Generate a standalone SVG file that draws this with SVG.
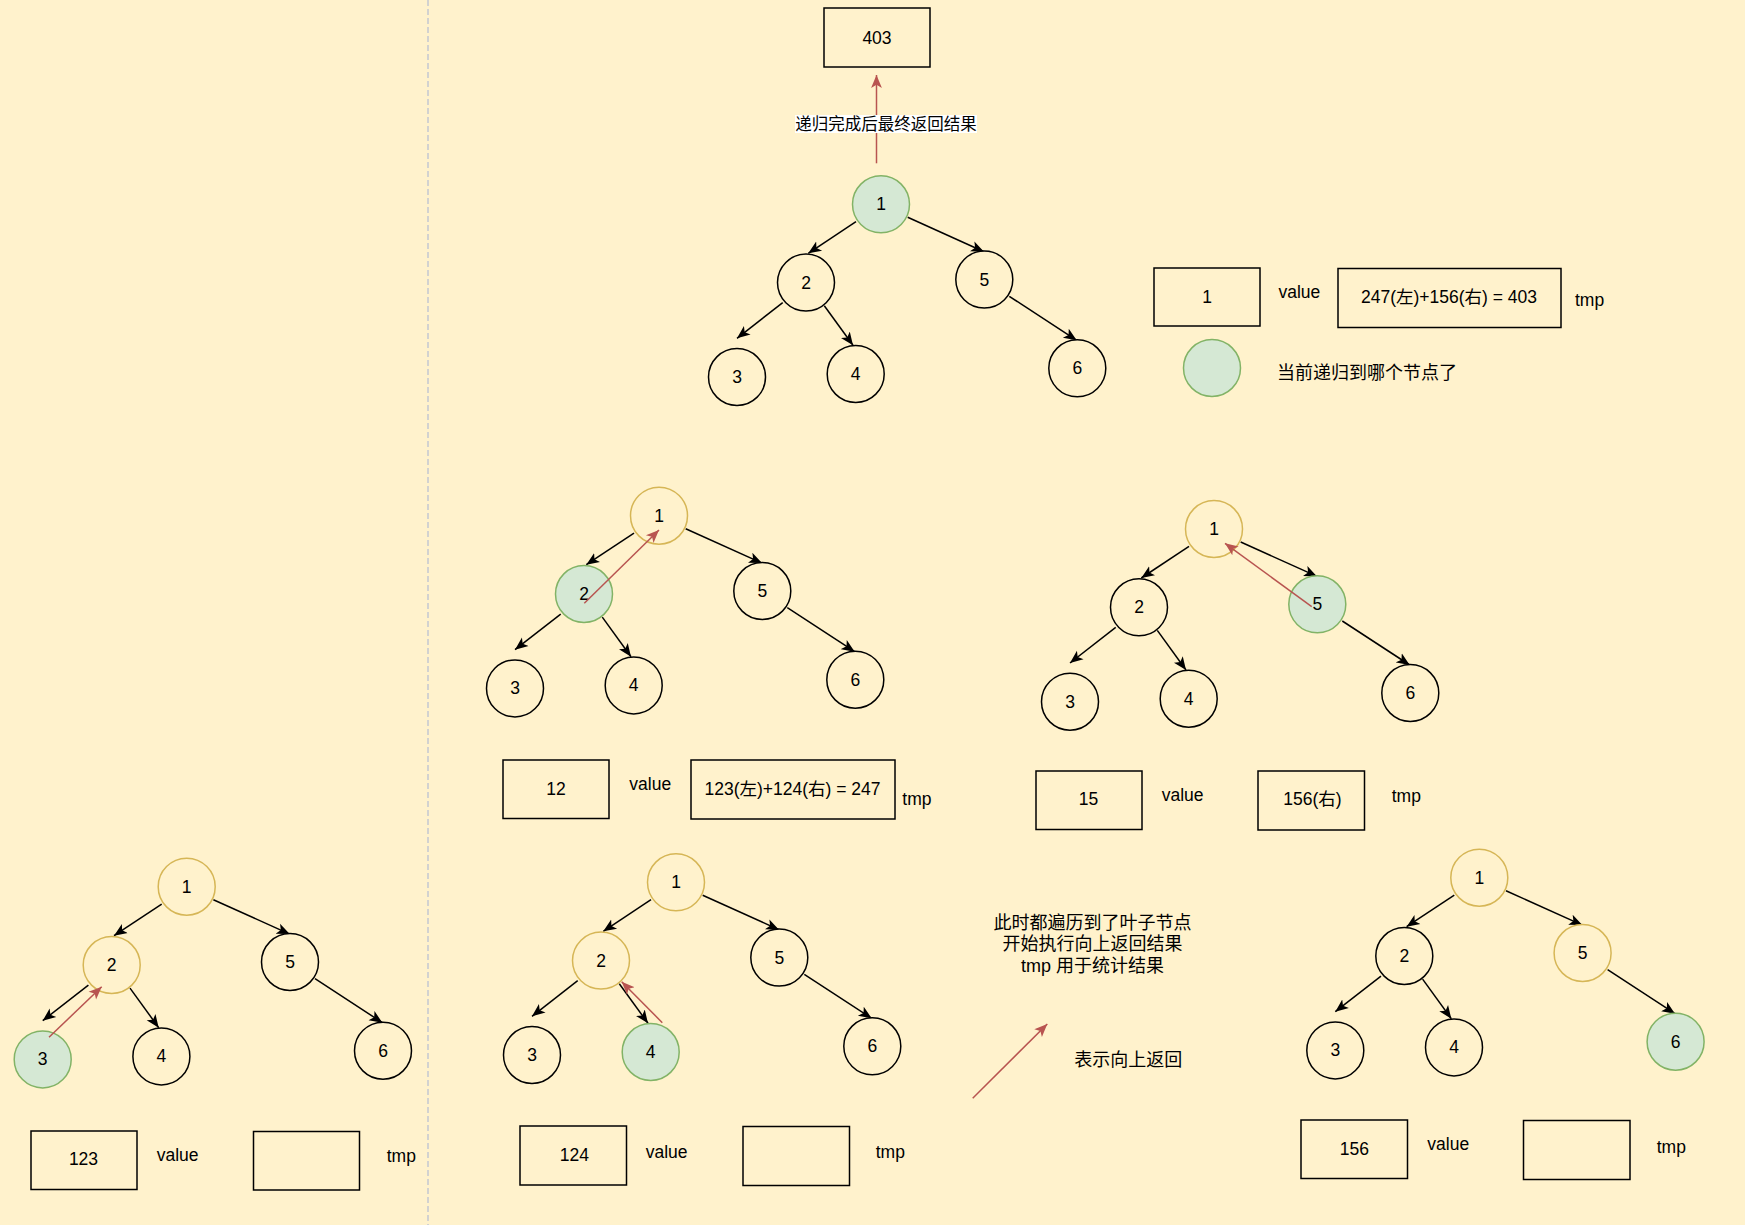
<svg xmlns="http://www.w3.org/2000/svg" width="1745" height="1225" viewBox="0 0 1745 1225">
<style>
.n{fill:#fff2cc;stroke:#000;stroke-width:1.5}
.y{fill:#fff2cc;stroke:#d6b656;stroke-width:1.5}
.g{fill:#d5e8d4;stroke:#82b366;stroke-width:1.5}
.box{fill:none;stroke:#000;stroke-width:1.5}
text{font-family:"Liberation Sans","Noto Sans CJK SC",sans-serif;font-size:17.5px;fill:#000}
.c{text-anchor:middle;dominant-baseline:central}
.l{dominant-baseline:central}
.cjk{font-size:18px}
.el{font-size:16.5px}
.e{stroke:#000;stroke-width:1.5;fill:none;marker-end:url(#ab)}
.r{stroke:#b85450;stroke-width:1.5;fill:none;marker-end:url(#ar)}
</style>
<defs>
<marker id="ab" viewBox="0 0 12 12" markerWidth="13" markerHeight="13" refX="12" refY="6" orient="auto" markerUnits="userSpaceOnUse"><path d="M0,1 L12,6 L0,11 L3,6 z" fill="#000"/></marker>
<marker id="ar" viewBox="0 0 12 12" markerWidth="13" markerHeight="13" refX="12" refY="6" orient="auto" markerUnits="userSpaceOnUse"><path d="M0,1 L12,6 L0,11 L3,6 z" fill="#b85450"/></marker>
</defs>
<rect x="0" y="0" width="1745" height="1225" fill="#fff2cc"/>
<line x1="428" y1="0" x2="428" y2="1225" stroke="#c3c7d1" stroke-width="1.5" stroke-dasharray="6 3"/>

<g id="connectors">
<!-- top tree -->
<line class="e" x1="856" y1="221.7" x2="808.3" y2="253.3"/>
<line class="e" x1="907.7" y1="217.3" x2="984" y2="251.7"/>
<line class="e" x1="782.7" y1="302.7" x2="737" y2="338.3"/>
<line class="e" x1="824.3" y1="305.7" x2="853" y2="345.3"/>
<line class="e" x1="1009.3" y1="296.3" x2="1076.7" y2="340.3"/>
<!-- mid-left tree -->
<line class="e" x1="634" y1="533.1" x2="586.3" y2="564.7"/>
<line class="e" x1="685.7" y1="528.7" x2="762" y2="563.1"/>
<line class="e" x1="560.7" y1="614.1" x2="515" y2="649.7"/>
<line class="e" x1="602.3" y1="617.1" x2="631" y2="656.7"/>
<line class="e" x1="787.3" y1="607.7" x2="854.7" y2="651.7"/>
<!-- mid-right tree -->
<line class="e" x1="1189" y1="546.4" x2="1141.3" y2="578"/>
<line class="e" x1="1240.7" y1="542" x2="1317" y2="576.4"/>
<line class="e" x1="1115.7" y1="627.4" x2="1070" y2="663"/>
<line class="e" x1="1157.3" y1="630.4" x2="1186" y2="670"/>
<line class="e" x1="1342.3" y1="621" x2="1409.7" y2="665"/>
<!-- bottom-left tree -->
<line class="e" x1="161.7" y1="904.1" x2="114" y2="935.7"/>
<line class="e" x1="213.4" y1="899.7" x2="289.7" y2="934.1"/>
<line class="e" x1="88.4" y1="985.1" x2="42.7" y2="1020.7"/>
<line class="e" x1="130" y1="988.1" x2="158.7" y2="1027.7"/>
<line class="e" x1="315" y1="978.7" x2="382.4" y2="1022.7"/>
<!-- bottom-middle tree -->
<line class="e" x1="651" y1="899.7" x2="603.3" y2="931.3"/>
<line class="e" x1="702.7" y1="895.3" x2="779" y2="929.7"/>
<line class="e" x1="577.7" y1="980.7" x2="532" y2="1016.3"/>
<line class="e" x1="619.3" y1="983.7" x2="648" y2="1023.3"/>
<line class="e" x1="804.3" y1="974.3" x2="871.7" y2="1018.3"/>
<!-- bottom-right tree -->
<line class="e" x1="1454.3" y1="895.1" x2="1406.6" y2="926.7"/>
<line class="e" x1="1506" y1="890.7" x2="1582.3" y2="925.1"/>
<line class="e" x1="1381" y1="976.1" x2="1335.3" y2="1011.7"/>
<line class="e" x1="1422.6" y1="979.1" x2="1451.3" y2="1018.7"/>
<line class="e" x1="1607.6" y1="969.7" x2="1675" y2="1013.7"/>
</g>

<g id="result-403"><rect class="box" x="824" y="8" width="106" height="59"/><text class="c" x="877" y="37.5">403</text></g>

<!-- top tree -->
<g id="t0-n1"><circle class="g" cx="881" cy="204.3" r="28.5"/><text class="c" x="881" y="204.3">1</text></g>
<g id="t0-n2"><circle class="n" cx="806" cy="282.6" r="28.5"/><text class="c" x="806" y="282.6">2</text></g>
<g id="t0-n5"><circle class="n" cx="984.3" cy="279.6" r="28.5"/><text class="c" x="984.3" y="279.6">5</text></g>
<g id="t0-n3"><circle class="n" cx="737" cy="377" r="28.5"/><text class="c" x="737" y="377">3</text></g>
<g id="t0-n4"><circle class="n" cx="855.7" cy="374" r="28.5"/><text class="c" x="855.7" y="374">4</text></g>
<g id="t0-n6"><circle class="n" cx="1077.3" cy="368.3" r="28.5"/><text class="c" x="1077.3" y="368.3">6</text></g>

<g id="legend-value"><rect class="box" x="1154" y="268" width="106" height="58"/><text class="c" x="1207" y="297">1</text><text class="l" x="1278.5" y="292">value</text></g>
<g id="legend-tmp"><rect class="box" x="1338" y="268.5" width="223" height="59"/><text class="c" x="1449" y="297">247(左)+156(右) = 403</text><text class="l" x="1575" y="300">tmp</text></g>
<g id="legend-current"><circle class="g" cx="1212" cy="368" r="28.5"/><text class="l cjk" x="1277" y="372.5">当前递归到哪个节点了</text></g>

<!-- mid-left tree -->
<g id="t1-n1"><circle class="y" cx="659" cy="515.7" r="28.5"/><text class="c" x="659" y="515.7">1</text></g>
<g id="t1-n2"><circle class="g" cx="584" cy="594" r="28.5"/><text class="c" x="584" y="594">2</text></g>
<g id="t1-n5"><circle class="n" cx="762.3" cy="591" r="28.5"/><text class="c" x="762.3" y="591">5</text></g>
<g id="t1-n3"><circle class="n" cx="515" cy="688.4" r="28.5"/><text class="c" x="515" y="688.4">3</text></g>
<g id="t1-n4"><circle class="n" cx="633.7" cy="685.4" r="28.5"/><text class="c" x="633.7" y="685.4">4</text></g>
<g id="t1-n6"><circle class="n" cx="855.3" cy="679.7" r="28.5"/><text class="c" x="855.3" y="679.7">6</text></g>
<g id="t1-value"><rect class="box" x="503" y="760" width="106" height="58.5"/><text class="c" x="556" y="789">12</text><text class="l" x="629.3" y="784">value</text></g>
<g id="t1-tmp"><rect class="box" x="691" y="760" width="204" height="59"/><text class="c" x="792.5" y="789">123(左)+124(右) = 247</text><text class="l" x="902.3" y="799">tmp</text></g>

<!-- mid-right tree -->
<g id="t2-n1"><circle class="y" cx="1214" cy="529" r="28.5"/><text class="c" x="1214" y="529">1</text></g>
<g id="t2-n2"><circle class="n" cx="1139" cy="607.3" r="28.5"/><text class="c" x="1139" y="607.3">2</text></g>
<g id="t2-n5"><circle class="g" cx="1317.3" cy="604.3" r="28.5"/><text class="c" x="1317.3" y="604.3">5</text></g>
<g id="t2-n3"><circle class="n" cx="1070" cy="701.7" r="28.5"/><text class="c" x="1070" y="701.7">3</text></g>
<g id="t2-n4"><circle class="n" cx="1188.7" cy="698.7" r="28.5"/><text class="c" x="1188.7" y="698.7">4</text></g>
<g id="t2-n6"><circle class="n" cx="1410.3" cy="693" r="28.5"/><text class="c" x="1410.3" y="693">6</text></g>
<g id="t2-value"><rect class="box" x="1036" y="771" width="106" height="58.5"/><text class="c" x="1088.5" y="799">15</text><text class="l" x="1161.7" y="795">value</text></g>
<g id="t2-tmp"><rect class="box" x="1258" y="771" width="106.5" height="59"/><text class="c" x="1312.5" y="799">156(右)</text><text class="l" x="1391.7" y="796">tmp</text></g>

<!-- bottom-left tree -->
<g id="t3-n1"><circle class="y" cx="186.7" cy="886.7" r="28.5"/><text class="c" x="186.7" y="886.7">1</text></g>
<g id="t3-n2"><circle class="y" cx="111.7" cy="965" r="28.5"/><text class="c" x="111.7" y="965">2</text></g>
<g id="t3-n5"><circle class="n" cx="290" cy="962" r="28.5"/><text class="c" x="290" y="962">5</text></g>
<g id="t3-n3"><circle class="g" cx="42.7" cy="1059.4" r="28.5"/><text class="c" x="42.7" y="1059.4">3</text></g>
<g id="t3-n4"><circle class="n" cx="161.4" cy="1056.4" r="28.5"/><text class="c" x="161.4" y="1056.4">4</text></g>
<g id="t3-n6"><circle class="n" cx="383" cy="1050.7" r="28.5"/><text class="c" x="383" y="1050.7">6</text></g>
<g id="t3-value"><rect class="box" x="31" y="1131" width="106" height="58.5"/><text class="c" x="83.5" y="1158.5">123</text><text class="l" x="156.7" y="1155">value</text></g>
<g id="t3-tmp"><rect class="box" x="253.5" y="1131.5" width="106" height="58.5"/><text class="l" x="386.7" y="1156">tmp</text></g>

<!-- bottom-middle tree -->
<g id="t4-n1"><circle class="y" cx="676" cy="882.3" r="28.5"/><text class="c" x="676" y="882.3">1</text></g>
<g id="t4-n2"><circle class="y" cx="601" cy="960.6" r="28.5"/><text class="c" x="601" y="960.6">2</text></g>
<g id="t4-n5"><circle class="n" cx="779.3" cy="957.6" r="28.5"/><text class="c" x="779.3" y="957.6">5</text></g>
<g id="t4-n3"><circle class="n" cx="532" cy="1055" r="28.5"/><text class="c" x="532" y="1055">3</text></g>
<g id="t4-n4"><circle class="g" cx="650.7" cy="1052" r="28.5"/><text class="c" x="650.7" y="1052">4</text></g>
<g id="t4-n6"><circle class="n" cx="872.3" cy="1046.3" r="28.5"/><text class="c" x="872.3" y="1046.3">6</text></g>
<g id="t4-value"><rect class="box" x="520" y="1126" width="106.5" height="59"/><text class="c" x="574.3" y="1154.5">124</text><text class="l" x="645.7" y="1151.5">value</text></g>
<g id="t4-tmp"><rect class="box" x="743" y="1126.5" width="106.5" height="59"/><text class="l" x="875.7" y="1152">tmp</text></g>

<!-- bottom-right tree -->
<g id="t5-n1"><circle class="y" cx="1479.3" cy="877.7" r="28.5"/><text class="c" x="1479.3" y="877.7">1</text></g>
<g id="t5-n2"><circle class="n" cx="1404.3" cy="956" r="28.5"/><text class="c" x="1404.3" y="956">2</text></g>
<g id="t5-n5"><circle class="y" cx="1582.6" cy="953" r="28.5"/><text class="c" x="1582.6" y="953">5</text></g>
<g id="t5-n3"><circle class="n" cx="1335.3" cy="1050.4" r="28.5"/><text class="c" x="1335.3" y="1050.4">3</text></g>
<g id="t5-n4"><circle class="n" cx="1454" cy="1047.4" r="28.5"/><text class="c" x="1454" y="1047.4">4</text></g>
<g id="t5-n6"><circle class="g" cx="1675.6" cy="1041.7" r="28.5"/><text class="c" x="1675.6" y="1041.7">6</text></g>
<g id="t5-value"><rect class="box" x="1301" y="1120" width="106.5" height="58.5"/><text class="c" x="1354.3" y="1148.5">156</text><text class="l" x="1427.3" y="1144">value</text></g>
<g id="t5-tmp"><rect class="box" x="1523.5" y="1120.5" width="106.5" height="59"/><text class="l" x="1656.7" y="1146.5">tmp</text></g>

<g id="note"><text class="c cjk" x="1092.5" y="922.5">此时都遍历到了叶子节点</text><text class="c cjk" x="1092.5" y="944">开始执行向上返回结果</text><text class="c cjk" x="1092.5" y="965.5">tmp 用于统计结果</text></g>
<g id="return-legend"><text class="c cjk" x="1128.3" y="1060">表示向上返回</text></g>

<g id="return-connectors">
<line class="r" x1="876.5" y1="163.3" x2="876.5" y2="75"/>
<line class="r" x1="584.3" y1="603.3" x2="659" y2="530"/>
<line class="r" x1="1311.7" y1="606.7" x2="1225" y2="543.3"/>
<line class="r" x1="49" y1="1037.3" x2="101.7" y2="986.7"/>
<line class="r" x1="662.3" y1="1022.7" x2="621.7" y2="981.7"/>
<line class="r" x1="972.7" y1="1098.3" x2="1047.3" y2="1024"/>
<rect x="795" y="115" width="182" height="18" fill="#ffffff"/>
<text class="c el" x="886" y="123.5">递归完成后最终返回结果</text>
</g>
</svg>
